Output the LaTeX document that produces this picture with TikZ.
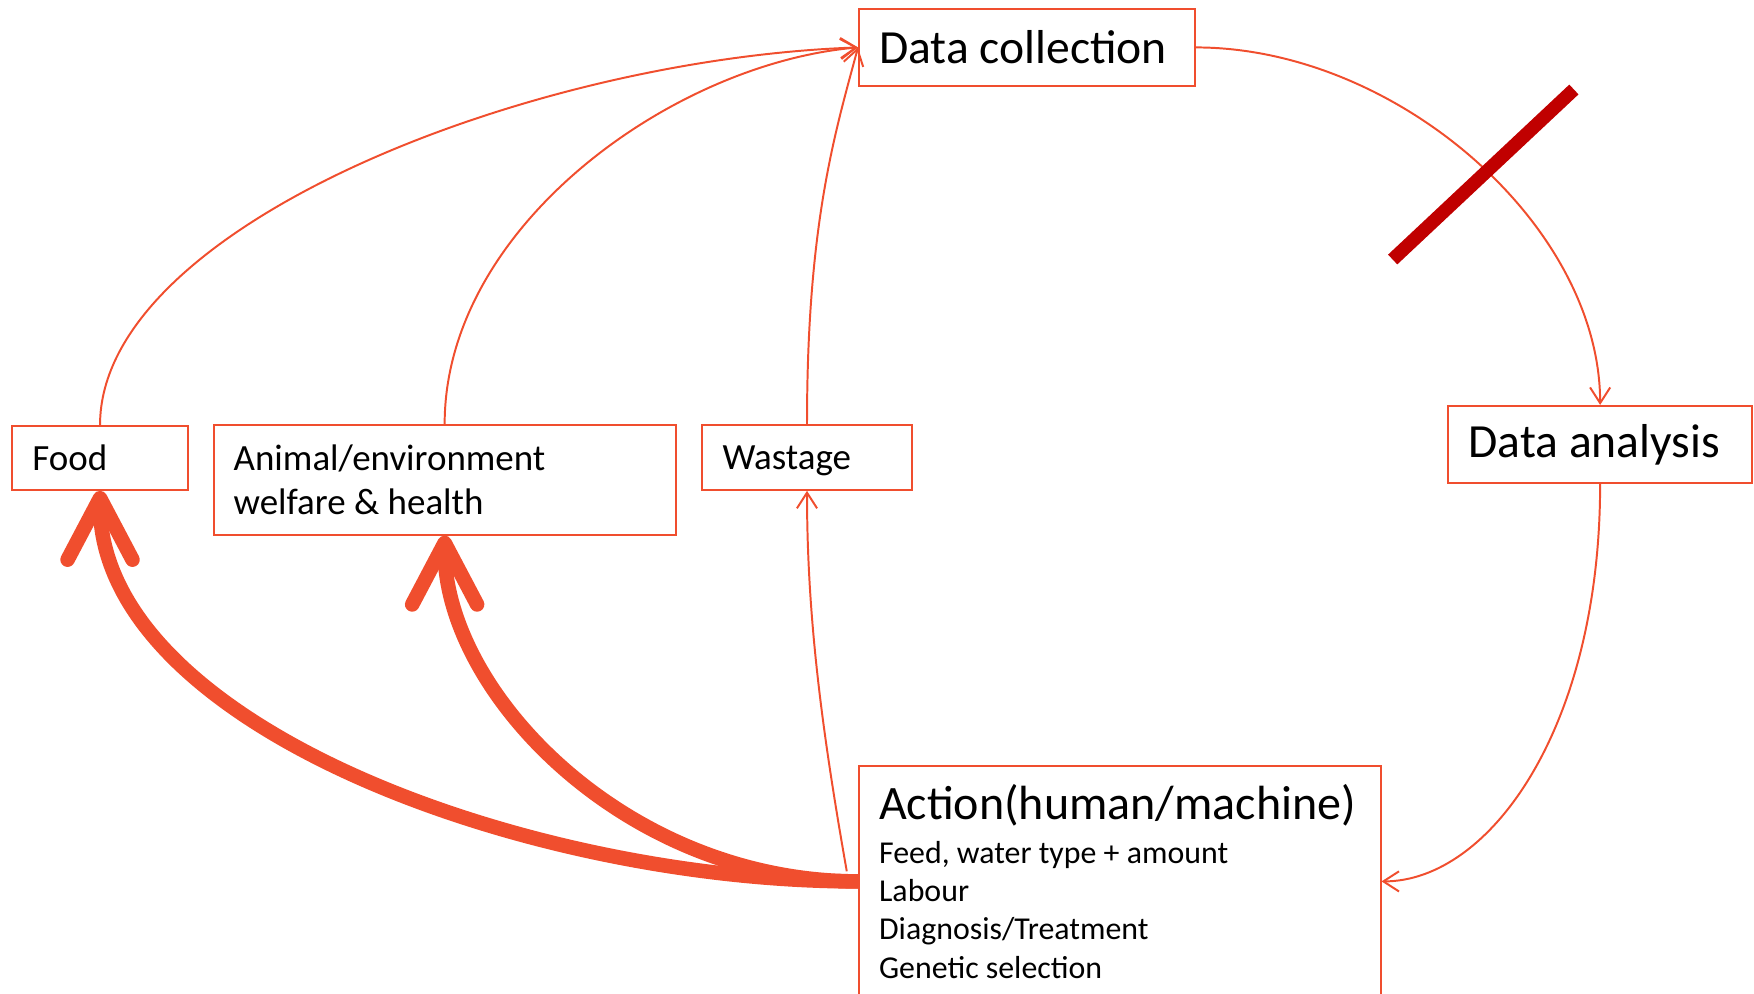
\documentclass[tikz,border=0pt]{standalone}
\usepackage{fontspec}
\setmainfont{Carlito}
\usetikzlibrary{arrows.meta}
\definecolor{linkred}{RGB}{240,78,46}
\definecolor{crossred}{RGB}{192,0,0}

\begin{document}
\begin{tikzpicture}[x=0.01cm,y=-0.01cm]
	\tikzset{
		N/.style={draw=linkred,line width=0.5pt,inner xsep=0.18cm,inner ysep=0pt,align=flush left,anchor=north west},
		big/.style={font=\fontsize{12.1}{14.5}\selectfont},
		mid/.style={font=\fontsize{9.4}{11.1}\selectfont},
		T/.style={draw=linkred,line width=0.5pt,-{Straight Barb[length=1.4mm,width=1.8mm]}},
		W/.style={draw=linkred,line width=3.7pt,-{Straight Barb[length=5.5mm,width=5.8mm,round]}},
	}
	\clip (0,0) rectangle (1568,888);
	
	\node[N,big,text width=2.64cm,minimum width=3.00cm,minimum height=0.69cm] (dc) at (767,7) {Data collection};
	\node[N,big,text width=2.35cm,minimum width=2.71cm,minimum height=0.69cm] (da) at (1294,362) {Data analysis};
	\node[N,mid,text width=1.21cm,minimum width=1.57cm,minimum height=0.57cm] (food) at (10,380) {Food};
	\node[N,mid,text width=3.77cm,minimum width=4.13cm,minimum height=0.98cm] (animal) at (190,379) {Animal/environment\\ welfare \& health};
	\node[N,mid,text width=1.51cm,minimum width=1.87cm,minimum height=0.58cm,text depth=0pt] (waste) at (627,379) {Wastage};
	\node[N,text width=4.30cm,minimum width=4.66cm,minimum height=2.06cm] (action) at (767,684) {%
		\parindent=0pt\fontsize{12.2}{14.6}\selectfont Action(human/machine)\par\vspace{1.5pt}
		\fontsize{8.1}{9.7}\selectfont Feed, water type + amount\par
		Labour\par
		Diagnosis/Treatment\par
		Genetic selection\par};
	
	\path
	(food.north) edge[T,out=90,in=182,out looseness=0.6,in looseness=1] (dc.west)
	(animal.north) edge[T,out=90,in=185,out looseness=0.9,in looseness=0.85] (dc.west)
	(waste.north) edge[T,out=90,in=255,out looseness=1.35,in looseness=0.6] (dc.west)
	(dc.east) edge[T,out=0,in=90,out looseness=0.95,in looseness=0.85] (da.north)
	(da.south) edge[T,out=-90,in=0,out looseness=1.38,in looseness=0.61] (action.east)
	([yshift=0.09cm,xshift=-0.1cm]action.west) edge[T,out=100,in=-90,out looseness=0.95,in looseness=0.85] (waste.south);
	
	\path
	(action.west) edge[W,out=180,in=-90,out looseness=1,in looseness=0.7] (food.south)
	(action.west) edge[W,out=180,in=-90,out looseness=1.1,in looseness=0.75] (animal.south);
	
	% cross on the analysis link
	\draw[crossred,line width=0.12cm] (1245,232) -- (1407,80);
\end{tikzpicture}
\end{document}
